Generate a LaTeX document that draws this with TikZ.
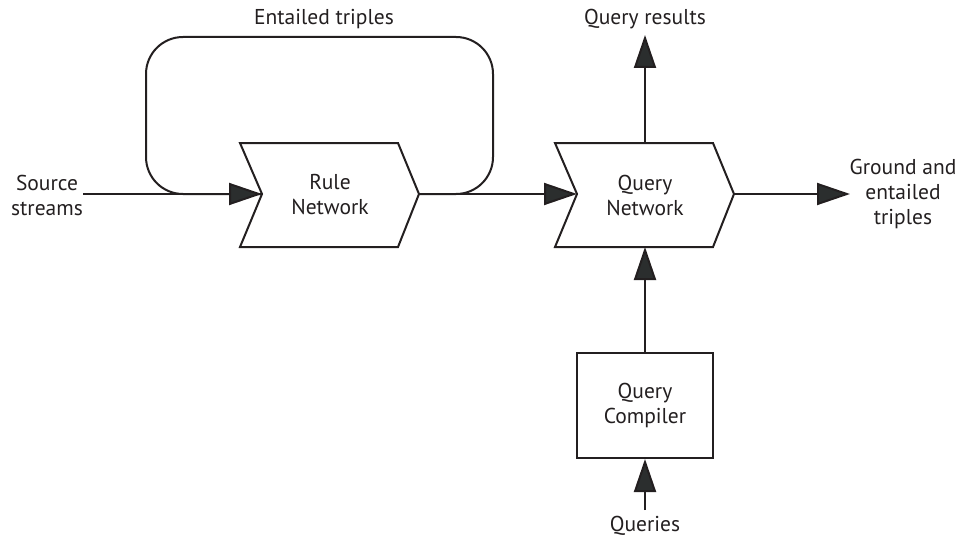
\documentclass[tikz,border=0pt]{standalone}
\usepackage{fontspec}
\setmainfont{PT Sans}
\usetikzlibrary{arrows.meta}
\definecolor{ink}{HTML}{231F20}
\definecolor{headfill}{HTML}{2B2E2E}
\tikzset{
  x=1pt, y=-1pt,
  every node/.style={text=ink, font=\fontsize{21.5}{25}\selectfont, align=center},
  wire/.style={draw=ink, line width=2pt},
  flow/.style={wire, -{Triangle[length=33pt, width=22pt, fill=headfill]}},
  stage/.style={draw=ink, line width=2pt, fill=white, line join=miter},
  boxnode/.style={draw=ink, line width=2pt, minimum width=136pt, minimum height=105pt, inner sep=0pt}
}
\begin{document}
\begin{tikzpicture}
\useasboundingbox (0,0) rectangle (962,543);

% chevron stages: corners and notch / tip points
\coordinate (rn-in) at (262,194);
\coordinate (rn-out) at (419,194);
\coordinate (qn-in) at (577,194);
\coordinate (qn-out) at (734,194);
\coordinate (qn-top) at (645,143);
\coordinate (qn-bot) at (645,247);

% feedback loop of entailed triples
\draw[wire, rounded corners=37pt] (rn-out) -| (493,37) -| (146,194) -- (rn-in);

\draw[stage] (240,143) -- (398,143) -- (rn-out) -- (398,247) -- (240,247) -- (rn-in) -- cycle;
\draw[stage] (555,143) -- (713,143) -- (qn-out) -- (713,247) -- (555,247) -- (qn-in) -- cycle;

\node (rule) at (330,195) {Rule\\Network};
\node (query) at (645,195) {Query\\Network};
\node[boxnode] (compiler) at (645,405.5) {Query\\Compiler};

% free ends and labels
\coordinate (src) at (83,194);
\coordinate (out) at (850,194);
\coordinate (res) at (645,35);
\coordinate (qin) at (645,510);
\node (srclabel) at (47,195) {Source\\streams};
\node (outlabel) at (903,194) {Ground and\\entailed\\triples};
\node (reslabel) at (645,19) {Query results};
\node (loop) at (324,19) {Entailed triples};
\node (qlabel) at (645,526) {Queries};

% connectors
\draw[flow] (src) -- (rn-in);
\draw[flow] (rn-out) -- (qn-in);
\draw[flow] (qn-out) -- (out);
\draw[flow] (qn-top) -- (res);
\draw[flow] (compiler.north) -- (qn-bot);
\draw[flow] (qin) -- (compiler.south);
\end{tikzpicture}
\end{document}
